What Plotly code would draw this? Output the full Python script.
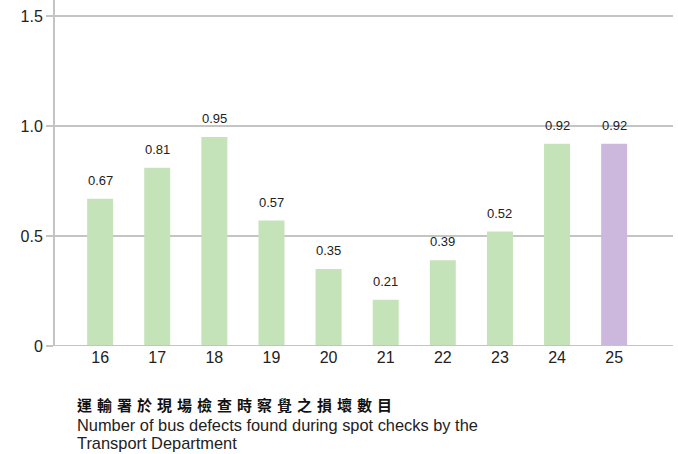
import plotly.graph_objects as go

years = [16, 17, 18, 19, 20, 21, 22, 23, 24, 25]
values = [0.67, 0.81, 0.95, 0.57, 0.35, 0.21, 0.39, 0.52, 0.92, 0.92]
labels = ["0.67", "0.81", "0.95", "0.57", "0.35", "0.21", "0.39", "0.52", "0.92", "0.92"]
colors = ["#c5e3b8"] * 9 + ["#cbb8dc"]
y_ticks = [0, 0.5, 1.0, 1.5]
y_tick_text = ["0", "0.5", "1.0", "1.5"]

title_zh = "運輸署於現場檢查時察覺之損壞數目"
title_en = ["Number of bus defects found during spot checks by the", "Transport Department"]

fig = go.Figure()
fig.add_trace(go.Bar(
    x=years, y=values, width=0.455,
    marker=dict(color=colors, line=dict(width=0)),
    hoverinfo="x+y",
))

for xv, yv, lab in zip(years, values, labels):
    fig.add_annotation(
        x=xv, y=yv, text=lab, showarrow=False, yanchor="bottom", yshift=9,
        font=dict(family="Liberation Sans Narrow, Arial Narrow, Liberation Sans, sans-serif",
                  size=13, color="#222"),
    )

fig.update_layout(
    width=678, height=454,
    margin=dict(l=55, r=5, t=0, b=108),
    paper_bgcolor="white", plot_bgcolor="white",
    showlegend=False,
    font=dict(family="Liberation Sans, Arial, sans-serif", color="#222"),
    xaxis=dict(
        range=[15.21, 26.03], tickmode="array", tickvals=years,
        ticktext=[str(y) for y in years], automargin=False,
        showgrid=False, zeroline=False, showline=False, ticks="",
        tickfont=dict(size=16, color="#222"),
    ),
    yaxis=dict(
        range=[0, 1.573], tickmode="array", tickvals=y_ticks, ticktext=y_tick_text,
        automargin=False,
        showgrid=True, gridcolor="#c4c4c4", gridwidth=2,
        zeroline=False, showline=True, linecolor="#c4c4c4", linewidth=2,
        ticks="outside", ticklen=7, tickcolor="#c4c4c4", tickwidth=2,
        tickfont=dict(size=16, color="#222"),
    ),
)

fig.add_shape(type="line", xref="paper", yref="y", x0=0, x1=1, y0=0, y1=0,
              line=dict(color="#c4c4c4", width=2))

fig.add_annotation(
    xref="paper", yref="paper", x=0.033, y=-0.168, xanchor="left", yanchor="middle",
    text="\u2004".join(title_zh), showarrow=False,
    font=dict(family="Noto Sans CJK TC", size=15, color="#111", weight="bold"),
)
for i, line in enumerate(title_en):
    fig.add_annotation(
        xref="paper", yref="paper", x=0.033, y=-(79 + 18 * i) / 346, xanchor="left",
        yanchor="middle", text=line, showarrow=False, align="left",
        font=dict(family="Liberation Sans, Arial, sans-serif", size=16.4, color="#222"),
    )

fig.write_html("out.html", config={"displayModeBar": False},
               post_script="document.body.style.margin='0';")
